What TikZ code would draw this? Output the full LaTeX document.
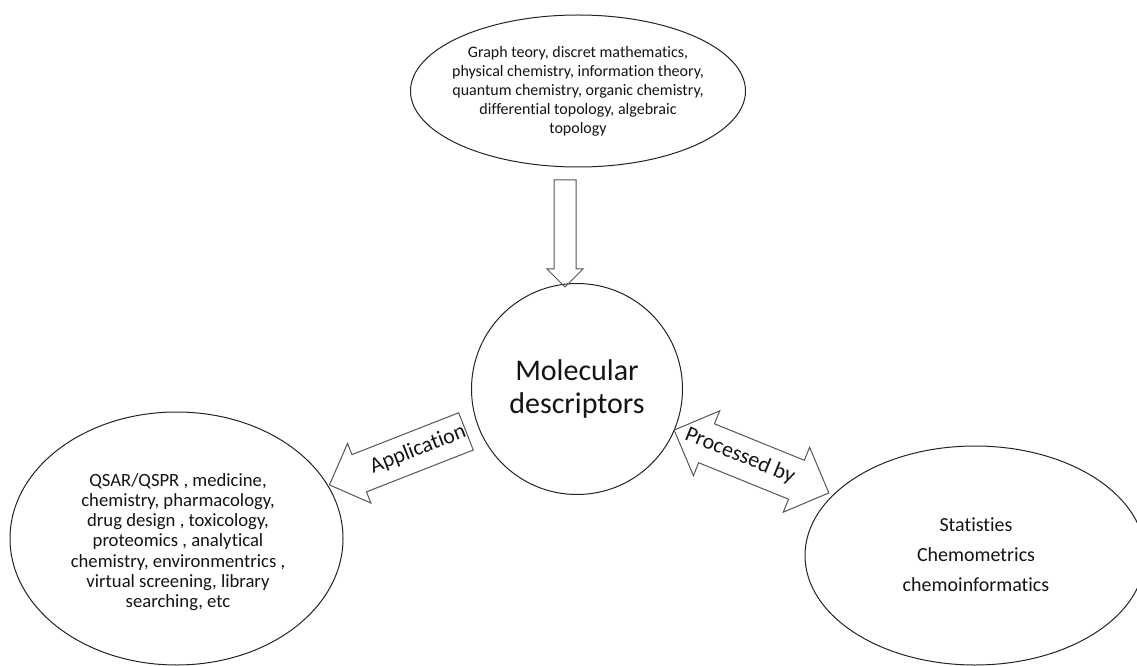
\documentclass[tikz,border=0pt]{standalone}
\usepackage{fontspec}
\setmainfont{Carlito}[Ligatures=NoCommon]
\usetikzlibrary{shapes.geometric,shapes.arrows}

\tikzset{every picture/.style={line width=0.75pt}}
\tikzset{
  blob/.style={draw={rgb, 255:red, 35; green, 35; blue, 35}, ellipse, inner sep=0pt},
  hub/.style={draw={rgb, 255:red, 35; green, 35; blue, 35}, circle, inner sep=0pt, align=center},
  blocktip/.style={draw={rgb, 255:red, 85; green, 85; blue, 85}, single arrow, inner xsep=0pt, minimum width=0pt},
  blocktwin/.style={draw={rgb, 255:red, 85; green, 85; blue, 85}, double arrow, inner xsep=0pt, minimum width=0pt},
  words/.style={text={rgb, 255:red, 20; green, 20; blue, 20}, inner sep=0.75pt, align=center}
}

\begin{document}
\begin{tikzpicture}[x=0.75pt,y=0.75pt,yscale=-1,xscale=1]
		\useasboundingbox (0,0) rectangle (1137,666);

		%Shape: Ellipse [id:fields]
		\node [blob, minimum width=251.25pt, minimum height=114pt] (fields) at (578,91) {};
		% Text Node
		\node [words, font=\fontsize{12pt}{14.25pt}\selectfont] (fieldstxt) at (fields) {Graph teory, discret mathematics,\\physical chemistry, information theory,\\quantum chemistry, organic chemistry,\\differential topology, algebraic\\topology};

		%Shape: Circle [id:md]
		\node [hub, words, minimum size=158.25pt, font=\fontsize{22.5pt}{24.2pt}\selectfont] (md) at (577,389) {Molecular\\descriptors};

		%Shape: Down Arrow [id:feed]
		\node [blocktip, rotate=-90, minimum height=80.25pt, inner ysep=7.875pt, single arrow head extend=5.25pt] (feed) at (565,228) {};

		%Shape: Left Arrow [id:apparrow]
		\node [blocktip, rotate=201.4, minimum height=110pt, inner ysep=14.625pt, single arrow head extend=9pt] (apparrow) at (407,454.5) {};
		% Text Node
		\node [words, font=\fontsize{16.5pt}{19pt}\selectfont, rotate=21.4] (applbl) at (418,449.5) {Application};

		%Shape: Double Arrow [id:procarrow]
		\node [blocktwin, rotate=-22.1, minimum height=125.25pt, inner ysep=15.375pt, double arrow head extend=10.5pt] (procarrow) at (751.5,461.5) {};
		% Text Node
		\node [words, font=\fontsize{16.5pt}{19pt}\selectfont, rotate=-22.1] (proclbl) at (740,456) {Processed by};

		%Shape: Ellipse [id:uses]
		\node [blob, minimum width=249.75pt, minimum height=189.75pt] (uses) at (176.5,538.5) {};
		% Text Node
		\node [words, font=\fontsize{14pt}{15.2pt}\selectfont] (usestxt) at (178,542) {QSAR/QSPR , medicine,\\chemistry, pharmacology,\\drug design , toxicology,\\proteomics , analytical\\chemistry, environmentrics ,\\virtual screening, library\\searching, etc};

		%Shape: Ellipse [id:tools]
		\node [blob, minimum width=255pt, minimum height=164.25pt] (tools) at (975,555.5) {};
		% Text Node
		\node [words, font=\fontsize{15pt}{22.5pt}\selectfont] (toolstxt) at (976,555) {Statisties\\Chemometrics\\chemoinformatics};

\end{tikzpicture}
\end{document}
